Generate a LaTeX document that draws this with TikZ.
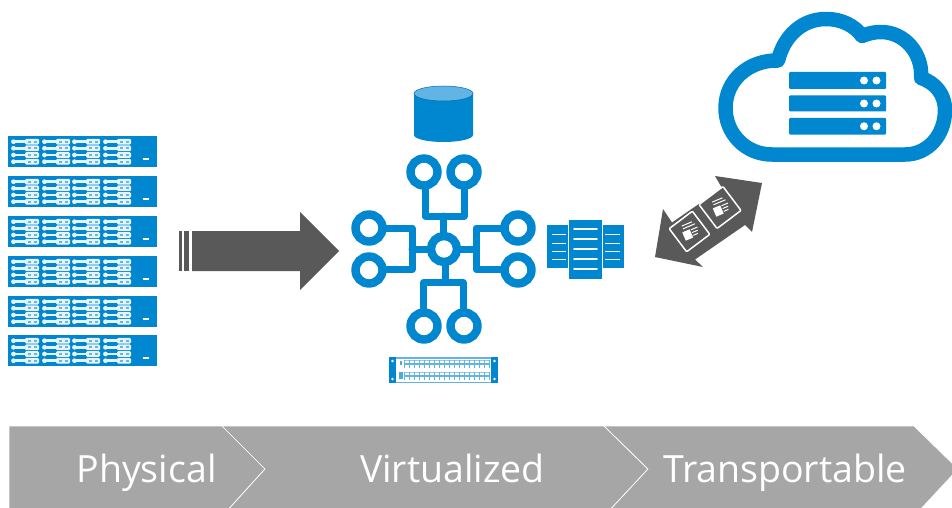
\documentclass[tikz,border=0pt]{standalone}
\usepackage{fontspec}
\setmainfont{Open Sans}
\definecolor{ibmblue}{HTML}{0087CF}
\definecolor{ltblue}{HTML}{62B4E4}
\definecolor{darkgr}{HTML}{595959}
\definecolor{chevgr}{HTML}{A6A6A6}
\tikzset{
  ring/.style={draw=ibmblue,line width=8.4pt,fill=white},
  wire/.style={draw=ibmblue,line width=7pt,line join=round,line cap=round},
  chev/.style={fill=chevgr,draw=white,line width=0.7pt},
  lab/.style={text=white,anchor=base,font=\fontsize{37.5}{38}\selectfont,inner sep=0pt},
  whiteln/.style={draw=white,line width=1.6pt,line cap=round},
  srv/.style={fill=ibmblue,rounded corners=1pt},
  doc/.style={draw=white,line width=1.5pt,rounded corners=1pt},
}
\newcommand{\rackunit}[1]{%
  \fill[ibmblue] (8,#1) rectangle (157,#1+31);
  \foreach \cx in {12,43,73,104}{
    \foreach \rowy in {5.7,12.3,19,25.7}{
      \fill[white!90!ibmblue] (\cx+0.5,#1+\rowy-1.3) rectangle (\cx+14,#1+\rowy+1.3);
      \fill[white!90!ibmblue] (\cx+1.5,#1+\rowy) circle (2.4);
      \fill[white!90!ibmblue,rounded corners=1.2pt] (\cx+13,#1+\rowy-2.9) rectangle (\cx+27,#1+\rowy+2.9);
      \fill[ibmblue!60] (\cx+15.5,#1+\rowy-1.1) rectangle (\cx+18.5,#1+\rowy+1.1);
      \fill[ibmblue!60] (\cx+21.5,#1+\rowy-1.1) rectangle (\cx+24.5,#1+\rowy+1.1);
    }
  }
  \fill[white] (143,#1+22) rectangle (149,#1+24);
}
\newcommand{\docicon}[4]{%
  \begin{scope}[shift={(#1,#2)},rotate=#3]
    \draw[doc] (-#4,-#4) rectangle (#4,#4);
    \begin{scope}[rotate=-14]
      \draw[white,line width=1pt] (-5,-8) -- (6,-8);
      \draw[white,line width=1pt] (-5,-5) -- (8,-5);
      \fill[white] (-7,-2) rectangle (1,7);
      \draw[white,line width=1pt] (2,-1) -- (9,-1) (2,2) -- (8,2) (2,5) -- (7,5);
    \end{scope}
  \end{scope}
}
\begin{document}
\begin{tikzpicture}[x=1pt,y=-1pt]
\useasboundingbox (0,0) rectangle (952,508);
\clip (0,0) rectangle (952,508);
\fill[white] (0,0) rectangle (952,508);

% racks
\foreach \unity in {136,176,216,256,296,335}{\rackunit{\unity}}

% big arrow
\fill[darkgr] (179,231) rectangle (182,271);
\fill[darkgr] (184,231) rectangle (189,271);
\fill[darkgr] (192,231) -- (300,231) -- (300,212) -- (339,251) -- (300,290) -- (300,271) -- (192,271) -- cycle;

% database
\fill[ibmblue] (414,93.5) -- (414,135) arc[start angle=180,end angle=360,x radius=29.5,y radius=-7] -- (473,93.5) -- cycle;
\draw[fill=ltblue,draw=ibmblue!80!black,line width=0.5pt] (443.5,93.5) ellipse (29.5 and 7.5);

% hub wires
\draw[wire] (425,172) -- (425,216) -- (464,216) -- (464,172);
\draw[wire] (443.5,216) -- (443.5,249);
\draw[wire] (369,228) -- (412,228) -- (412,269.5) -- (369,269.5);
\draw[wire] (412,249) -- (444,249);
\draw[wire] (518,228) -- (476,228) -- (476,269.5) -- (518,269.5);
\draw[wire] (476,249) -- (444,249);
\draw[wire] (423.5,326) -- (423.5,282.5) -- (463,282.5) -- (463,326);
\draw[wire] (445,282.5) -- (445,249);
% rings
\foreach \cx/\cy in {424/172,464/172,369/228,369/270,518/228,518/270,424/326,464/326}{
  \draw[ring] (\cx,\cy) circle (13.5);
}
\draw[ring] (444,249) circle (13);

% server stack
\fill[ibmblue] (547,225) rectangle (568,268);
\fill[ibmblue] (603,225) rectangle (624,268);
\fill[ibmblue] (569,220) rectangle (602,279);
\foreach \ly in {229,239,249,259,269}{\draw[whiteln] (574,\ly) -- (597,\ly);}
\foreach \ly in {234,243,251,259}{
  \draw[white,line width=1pt] (552,\ly) -- (566,\ly);
  \draw[white,line width=1pt] (605,\ly) -- (620,\ly);
}

% patch panel
\fill[ltblue] (389,357) rectangle (498,383);
\fill[ibmblue] (389,357) rectangle (396,383);
\fill[ibmblue] (491,357) rectangle (498,383);
\fill[white] (396,358.5) rectangle (491,381.5);
\foreach \px in {392.5,494.5}{
  \fill[white] (\px,361) circle (1.3);
  \fill[white] (\px,379) circle (1.3);
}
\fill[ibmblue!70] (400,361) rectangle (402,365);
\fill[ibmblue!70] (399,372) rectangle (403,379);
\foreach \py in {360,372}{
  \draw[ltblue!70,line width=0.7pt] (404,\py) -- (489,\py);
  \draw[ltblue,line width=1.4pt] (404,\py+4) -- (489,\py+4);
  \foreach \k in {0,...,17}{
    \draw[ltblue,line width=0.9pt] (404+\k*5,\py) -- (404+\k*5,\py+8);
  }
}

% double arrow
\fill[darkgr] (655,257) -- (663,209) -- (672,222.5) -- (722,188) -- (715,176) -- (762,183) -- (752,232) -- (745,225) -- (695,259.5) -- (703,267) -- cycle;
\docicon{720}{207.5}{37}{15}
\docicon{689.5}{231.5}{37}{14.5}

% cloud
\draw[ibmblue,line width=14.5pt,line join=round,line cap=round]
  (772,154.5)
  .. controls (745,154.5) and (725.5,133) .. (725.5,108)
  .. controls (725.5,80) and (749,60) .. (778,60.5)
  .. controls (784,36) and (802,19) .. (826,19)
  .. controls (842,19) and (855,26) .. (862,36)
  .. controls (868,33.5) and (874,32) .. (881,32)
  .. controls (905,32) and (923,54) .. (921,78)
  .. controls (936,83) and (945,95) .. (945,110)
  .. controls (945,135) and (928,154.5) .. (905,154.5)
  -- cycle;
\foreach \sy/\sz in {72/89,95.5/111.5,118/134.5}{
  \fill[srv] (789,\sy) rectangle (886,\sz);
  \fill[white] (864,{(\sy+\sz)/2}) circle (4);
  \fill[white] (876.5,{(\sy+\sz)/2}) circle (4);
}

% chevrons
\draw[chev] (9,426) -- (222,426) -- (265,469) -- (226,512) -- (9,512) -- cycle;
\draw[chev] (222,426) -- (604,426) -- (648,469) -- (608,512) -- (226,512) -- (265,469) -- cycle;
\draw[chev] (604,426) -- (914,426) -- (958,469) -- (918,512) -- (608,512) -- (648,469) -- cycle;
\node[lab] (physical) at (146.5,482) {Physical};
\node[lab] (virtualized) at (452.5,482) {Virtualized};
\node[lab] (transportable) at (785,482) {Transportable};
\end{tikzpicture}
\end{document}
